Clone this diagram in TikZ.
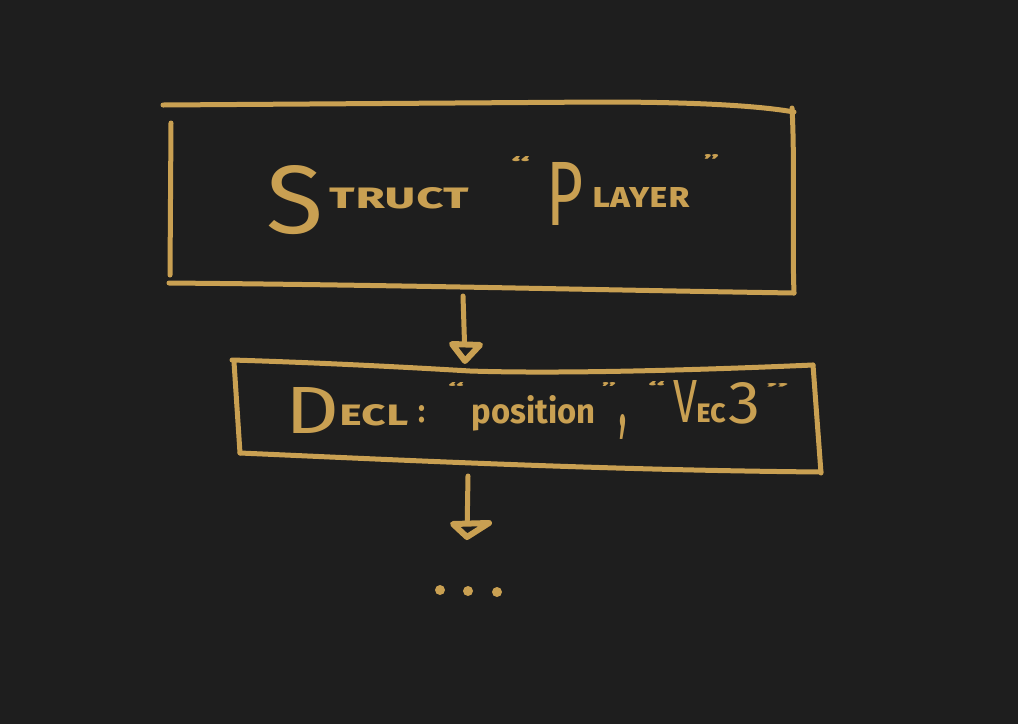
\documentclass[tikz,border=0pt]{standalone}
\usepackage{fontspec}
\setmainfont{Fira Sans}
\usepackage{graphicx}
\definecolor{gold}{HTML}{C9A052}
\definecolor{bg}{HTML}{1E1E1E}
\newcommand{\pc}[3]{\rlap{\hspace*{#1pt}\raisebox{#2pt}{#3}}}
\newcommand{\rb}[3]{\resizebox{#1pt}{#2pt}{#3}}
\newcommand{\smc}{\bfseries\addfontfeatures{Letters=SmallCaps}}
\tikzset{
  ink/.style={draw=gold, line width=5pt, line cap=round, line join=round},
  head/.style={draw=gold, line width=6pt, line cap=round, line join=round, fill=bg},
  lbl/.style={inner sep=0pt, anchor=base west, text=gold},
  dotnode/.style={circle, fill=gold, inner sep=0pt, minimum size=10pt},
  anchorbox/.style={inner sep=0pt, draw=none}
}
\begin{document}
\begin{tikzpicture}[x=1pt, y=-1pt]
\fill[bg] (0,0) rectangle (1018,724);
\useasboundingbox (0,0) rectangle (1018,724);

% box 1 (hand drawn)
\node[anchorbox, minimum width=630pt, minimum height=190pt] (player) at (480,198) {};
\draw[ink] (163,105) -- (600,102) .. controls (700,102) and (760,106) .. (794,112);
\draw[ink] (171,123) -- (170,275);
\draw[ink] (169,283) .. controls (400,285) and (600,290) .. (794,293);
\draw[ink] (792,108) .. controls (795,160) and (792,240) .. (794,293);

\node[lbl] (t1) at (266,233) {%
\pc{0}{0}{\rb{57}{68}{S}}%
\pc{63}{25}{\rb{139}{21}{\smc truct}}%
\pc{244}{64}{\rb{20}{13}{\bfseries “}}%
\pc{280}{8}{\rb{37}{63}{P}}%
\pc{326}{26}{\rb{97}{20}{\smc layer}}%
\pc{437}{67}{\rb{16}{12}{\bfseries ”}}%
};

% box 2
\node[anchorbox, minimum width=585pt, minimum height=105pt] (decl) at (527,415) {};
\draw[ink] (232,360) .. controls (330,363) and (420,368) .. (470,371) .. controls (560,374) and (700,370) .. (813,365);
\draw[ink] (234,362) -- (240,453);
\draw[ink] (240,453) .. controls (400,460) and (600,470) .. (821,472);
\draw[ink] (813,365) -- (821,473);

\node[lbl] (t2) at (285,433) {%
\pc{0}{0}{\rb{54}{46}{D}}%
\pc{54}{8}{\rb{69}{21}{\smc ecl}}%
\pc{133}{11}{\rb{7}{17}{\bfseries :}}%
\pc{162}{41}{\rb{17}{10}{\bfseries “}}%
\pc{186}{10}{\rb{124}{28}{\bfseries position}}%
\pc{316}{41}{\rb{15}{10}{\bfseries ”}}%
\pc{334}{7}{\rb{7}{12}{\bfseries ,}}%
\pc{362}{41}{\rb{18}{11}{\bfseries “}}%
\pc{388}{11}{\rb{24}{42}{V}}%
\pc{411}{11}{\rb{30}{19}{\smc ec}}%
\pc{443}{10}{\rb{32}{41}{3}}%
\pc{480}{41}{\rb{24}{9}{\bfseries ”}}%
};

% arrow 1
\coordinate (a1s) at (463,296);
\coordinate (a1e) at (465,358);
\draw[ink] (a1s) -- (a1e);
\draw[head] (452,344) -- (465,361) -- (480,345) -- cycle;

% arrow 2
\coordinate (a2s) at (468,476);
\coordinate (a2e) at (467,535);
\draw[ink] (a2s) -- (a2e);
\draw[head] (453,524) -- (467,537) -- (489,523) -- cycle;

% ellipsis
\node[dotnode] (d1) at (440,590) {};
\node[dotnode] (d2) at (468,591) {};
\node[dotnode] (d3) at (497,592) {};
\end{tikzpicture}
\end{document}
